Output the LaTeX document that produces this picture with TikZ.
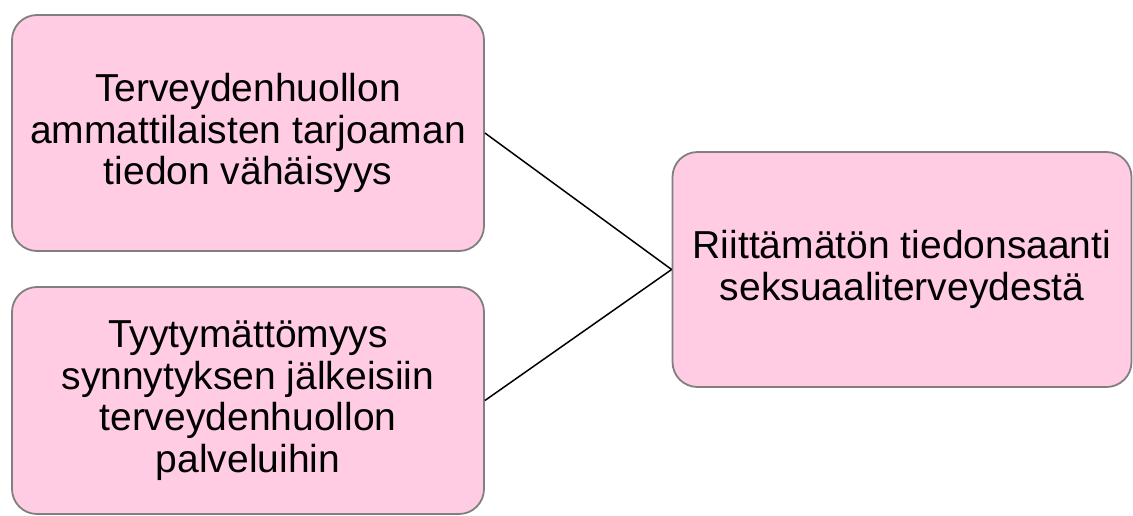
\documentclass[tikz,border=0pt]{standalone}
\usepackage{fontspec}
\setmainfont{Liberation Sans}
\definecolor{boxfill}{RGB}{255,204,228}
\definecolor{boxdraw}{RGB}{128,128,128}
\begin{document}
\begin{tikzpicture}[x=1pt,y=-1pt,
  box/.style={draw=boxdraw, line width=1.8pt, fill=boxfill, rounded corners=25pt,
    inner sep=0pt, align=center, text=black,
    font=\fontsize{39}{41.5}\selectfont},
  link/.style={draw=black, line width=1.5pt}]
\useasboundingbox (0,0) rectangle (1133,515);
\node[box, minimum width=472pt, minimum height=236pt] (a) at (248,133)
  {Terveydenhuollon\\ammattilaisten tarjoaman\\tiedon vähäisyys};
\node[box, minimum width=472pt, minimum height=227pt] (b) at (248,400.5)
  {Tyytymättömyys\\synnytyksen jälkeisiin\\terveydenhuollon\\palveluihin};
\node[box, minimum width=459pt, minimum height=235pt] (c) at (902,269.5)
  {Riittämätön tiedonsaanti\\seksuaaliterveydestä};
\draw[link] (a.east) -- (c.west);
\draw[link] (b.east) -- (c.west);
\end{tikzpicture}
\end{document}
